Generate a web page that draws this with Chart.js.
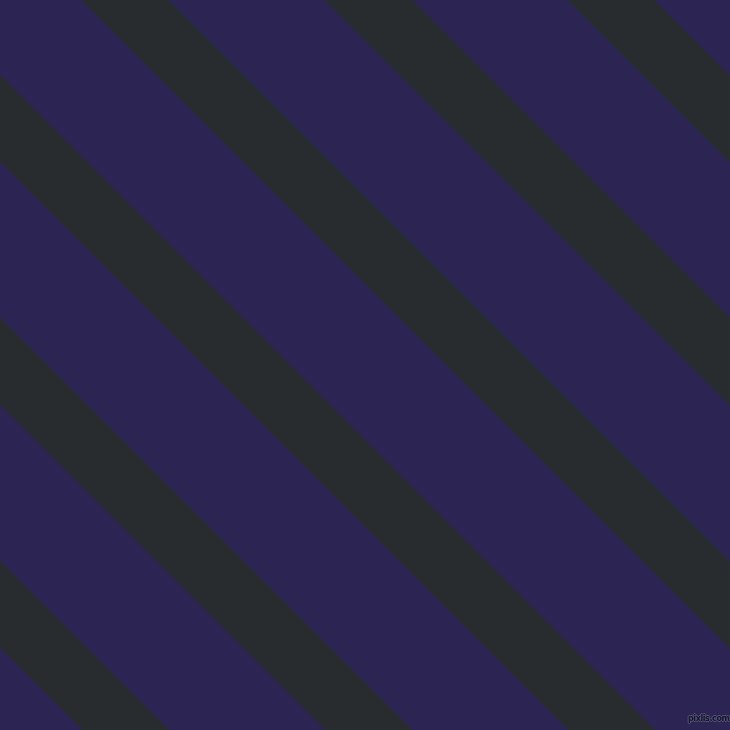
<!DOCTYPE html>
<html>
<head>
<meta charset="utf-8">
<script src="https://cdn.jsdelivr.net/npm/chart.js@4/dist/chart.umd.min.js"></script>
<style>
  html, body { margin: 0; padding: 0; background: #2C2553; }
  #wrap { position: relative; width: 730px; height: 730px; }
  #c { display: block; }
  #wm { position: absolute; left: 688px; top: 714px; font: bold 8px "DejaVu Sans", sans-serif; color: #14142a; letter-spacing: -0.4px;
        text-shadow: 1px 0 0 #55557a, -1px 0 0 #55557a, 0 1px 0 #55557a, 0 -1px 0 #55557a; }
</style>
</head>
<body>
<div id="wrap">
<canvas id="c" width="730" height="730"></canvas>
<div id="wm">pixlis.com</div>
</div>
<script>
// Stripe offsets (value of x - y along each stripe edge, in image units)
const stripeStarts = [-648, -405, -162, 81, 324, 567];
const stripeEnds   = [-561, -318,  -75, 168, 412, 654];
const axisMin = 0, axisMax = 730;
const bgColor = '#2C2553';
const stripeColor = '#282C2F';

function stripePolygon(s, e) {
  const yA = axisMin - 60, yB = axisMax + 60;
  return [
    {x: s + yA, y: yA}, {x: s + yB, y: yB},
    {x: e + yB, y: yB}, {x: e + yA, y: yA},
    {x: s + yA, y: yA}
  ];
}

const datasets = stripeStarts.map((s, i) => ({
  data: stripePolygon(s, stripeEnds[i]),
  fill: 'shape',
  backgroundColor: stripeColor,
  borderWidth: 0,
  borderColor: stripeColor,
  pointRadius: 0,
  tension: 0
}));

const bgPlugin = {
  id: 'bg',
  beforeDraw(chart) {
    const ctx = chart.ctx;
    ctx.save();
    ctx.fillStyle = bgColor;
    ctx.fillRect(0, 0, chart.width, chart.height);
    ctx.restore();
  }
};

new Chart(document.getElementById('c'), {
  type: 'line',
  data: { datasets },
  options: {
    responsive: false,
    animation: false,
    devicePixelRatio: 1,
    layout: { padding: 0 },
    plugins: { legend: { display: false }, tooltip: { enabled: false } },
    scales: {
      x: { type: 'linear', min: axisMin, max: axisMax, display: false },
      y: { type: 'linear', min: axisMin, max: axisMax, reverse: true, display: false }
    }
  },
  plugins: [bgPlugin]
});
</script>
</body>
</html>
